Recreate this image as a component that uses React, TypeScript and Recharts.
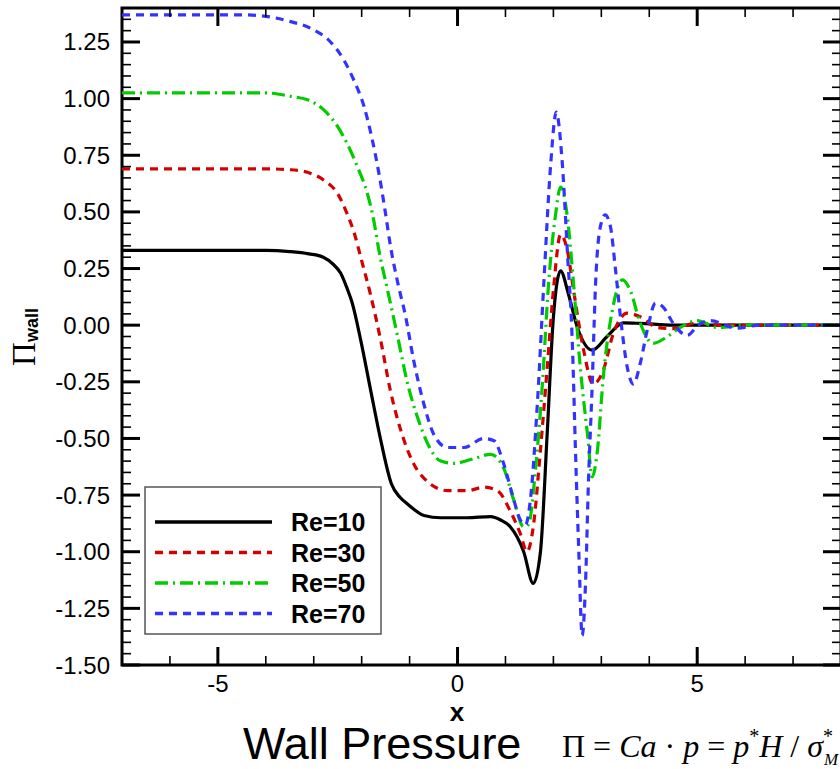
import { LineChart, Line, XAxis, YAxis, ReferenceArea, Legend } from "recharts";

// Re 별 벽면 압력 곡선 (x, Π_wall) - 그림에서 읽은 값
const re10 = [
  { x: -7, y: 0.33 }, { x: -4, y: 0.33 }, { x: -3.5, y: 0.325 }, { x: -3.1, y: 0.315 },
  { x: -2.8, y: 0.3 }, { x: -2.6, y: 0.27 }, { x: -2.44, y: 0.23 }, { x: -2.3, y: 0.16 },
  { x: -2.2, y: 0.1 }, { x: -2.02, y: -0.066 }, { x: -1.81, y: -0.29 }, { x: -1.6, y: -0.51 },
  { x: -1.38, y: -0.7 }, { x: -1.2, y: -0.76 }, { x: -1.04, y: -0.79 }, { x: -0.7, y: -0.84 },
  { x: -0.35, y: -0.85 }, { x: 0.2, y: -0.85 }, { x: 0.69, y: -0.845 }, { x: 0.9, y: -0.86 },
  { x: 1.1, y: -0.89 }, { x: 1.38, y: -1.0 }, { x: 1.58, y: -1.14 }, { x: 1.73, y: -1.0 },
  { x: 1.87, y: -0.48 }, { x: 2.0, y: 0.035 }, { x: 2.15, y: 0.24 }, { x: 2.31, y: 0.14 },
  { x: 2.5, y: -0.01 }, { x: 2.81, y: -0.11 }, { x: 3.12, y: -0.05 }, { x: 3.46, y: 0.01 },
  { x: 3.8, y: 0.008 }, { x: 4.5, y: 0 }, { x: 8, y: 0 },
];

const re30 = [
  { x: -7, y: 0.69 }, { x: -4, y: 0.69 }, { x: -3.48, y: 0.686 }, { x: -3.06, y: 0.67 },
  { x: -2.79, y: 0.64 }, { x: -2.5, y: 0.58 }, { x: -2.3, y: 0.49 }, { x: -2.16, y: 0.41 },
  { x: -2.02, y: 0.3 }, { x: -1.81, y: 0.13 }, { x: -1.6, y: -0.07 }, { x: -1.4, y: -0.29 },
  { x: -1.19, y: -0.46 }, { x: -0.92, y: -0.61 }, { x: -0.63, y: -0.69 }, { x: -0.21, y: -0.73 },
  { x: 0.21, y: -0.73 }, { x: 0.55, y: -0.715 }, { x: 0.83, y: -0.73 }, { x: 1.1, y: -0.82 },
  { x: 1.31, y: -0.92 }, { x: 1.45, y: -1.0 }, { x: 1.58, y: -0.89 }, { x: 1.73, y: -0.55 },
  { x: 1.87, y: -0.19 }, { x: 2.0, y: 0.155 }, { x: 2.15, y: 0.4 }, { x: 2.29, y: 0.33 },
  { x: 2.42, y: 0.155 }, { x: 2.63, y: -0.11 }, { x: 2.83, y: -0.26 }, { x: 3.04, y: -0.2 },
  { x: 3.25, y: -0.037 }, { x: 3.54, y: 0.053 }, { x: 3.81, y: 0.037 }, { x: 4.17, y: -0.01 },
  { x: 4.5, y: -0.015 }, { x: 5, y: 0.01 }, { x: 5.5, y: 0 }, { x: 8, y: 0 },
];

const re50 = [
  { x: -7, y: 1.025 }, { x: -4, y: 1.025 }, { x: -3.48, y: 1.01 }, { x: -3.13, y: 0.995 },
  { x: -2.79, y: 0.95 }, { x: -2.5, y: 0.876 }, { x: -2.3, y: 0.8 }, { x: -2.09, y: 0.7 },
  { x: -1.88, y: 0.58 }, { x: -1.75, y: 0.465 }, { x: -1.64, y: 0.33 }, { x: -1.46, y: 0.155 },
  { x: -1.25, y: -0.05 }, { x: -1.04, y: -0.26 }, { x: -0.83, y: -0.41 }, { x: -0.63, y: -0.52 },
  { x: -0.35, y: -0.6 }, { x: -0.08, y: -0.61 }, { x: 0.33, y: -0.59 }, { x: 0.69, y: -0.57 },
  { x: 0.96, y: -0.63 }, { x: 1.17, y: -0.77 }, { x: 1.38, y: -0.89 }, { x: 1.48, y: -0.88 },
  { x: 1.63, y: -0.63 }, { x: 1.77, y: -0.26 }, { x: 1.9, y: 0.185 }, { x: 2.04, y: 0.48 },
  { x: 2.15, y: 0.61 }, { x: 2.29, y: 0.48 }, { x: 2.42, y: 0.185 }, { x: 2.56, y: -0.185 },
  { x: 2.71, y: -0.48 }, { x: 2.81, y: -0.67 }, { x: 2.92, y: -0.55 }, { x: 3.04, y: -0.23 },
  { x: 3.23, y: 0.066 }, { x: 3.44, y: 0.2 }, { x: 3.6, y: 0.155 }, { x: 3.81, y: 0.01 },
  { x: 4.08, y: -0.08 }, { x: 4.38, y: -0.05 }, { x: 4.65, y: -0.01 }, { x: 5, y: 0.02 },
  { x: 5.42, y: -0.01 }, { x: 6, y: 0 }, { x: 8, y: 0 },
];

const re70 = [
  { x: -7, y: 1.37 }, { x: -4.5, y: 1.37 }, { x: -3.9, y: 1.36 }, { x: -3.48, y: 1.34 },
  { x: -3.06, y: 1.31 }, { x: -2.65, y: 1.25 }, { x: -2.37, y: 1.17 }, { x: -2.16, y: 1.08 },
  { x: -1.95, y: 0.965 }, { x: -1.78, y: 0.82 }, { x: -1.64, y: 0.67 }, { x: -1.5, y: 0.49 },
  { x: -1.4, y: 0.35 }, { x: -1.25, y: 0.19 }, { x: -1.08, y: 0.035 }, { x: -0.92, y: -0.15 },
  { x: -0.7, y: -0.35 }, { x: -0.5, y: -0.48 }, { x: -0.21, y: -0.54 }, { x: 0.13, y: -0.54 },
  { x: 0.55, y: -0.5 }, { x: 0.76, y: -0.51 }, { x: 0.96, y: -0.61 }, { x: 1.14, y: -0.745 },
  { x: 1.31, y: -0.86 }, { x: 1.42, y: -0.88 }, { x: 1.52, y: -0.77 }, { x: 1.67, y: -0.33 },
  { x: 1.8, y: 0.185 }, { x: 1.94, y: 0.7 }, { x: 2.06, y: 0.94 }, { x: 2.18, y: 0.73 },
  { x: 2.29, y: 0.33 }, { x: 2.4, y: -0.11 }, { x: 2.46, y: -0.55 }, { x: 2.53, y: -1.0 },
  { x: 2.6, y: -1.37 }, { x: 2.67, y: -1.14 }, { x: 2.73, y: -0.7 }, { x: 2.81, y: -0.26 },
  { x: 2.88, y: 0.185 }, { x: 2.98, y: 0.435 }, { x: 3.08, y: 0.487 }, { x: 3.19, y: 0.435 },
  { x: 3.29, y: 0.257 }, { x: 3.4, y: 0.035 }, { x: 3.54, y: -0.185 }, { x: 3.67, y: -0.26 },
  { x: 3.81, y: -0.17 }, { x: 3.96, y: -0.02 }, { x: 4.13, y: 0.097 }, { x: 4.29, y: 0.08 },
  { x: 4.5, y: 0.008 }, { x: 4.79, y: -0.045 }, { x: 5.02, y: 0 }, { x: 5.27, y: 0.02 },
  { x: 5.83, y: -0.013 }, { x: 6.3, y: 0 }, { x: 8, y: 0 },
];

const seriesNames = ["Re=10", "Re=30", "Re=50", "Re=70"];
const seriesColors = ["#000000", "#d40000", "#00cc00", "#3333ff"];
const seriesDashes = ["", "8 6", "13 5 2 5", "8 6"];
const seriesData = [re10, re30, re50, re70];

// 눈금
const xMajor = [-5, 0, 5];
const xMinor = [-6, -4, -3, -2, -1, 1, 2, 3, 4, 6, 7];
const yMajor = [-1.5, -1.25, -1.0, -0.75, -0.5, -0.25, 0, 0.25, 0.5, 0.75, 1.0, 1.25];
const yMinor: number[] = [];
for (let i = -29; i <= 27; i++) {
  if (i % 5 !== 0) yMinor.push(i * 0.05);
}

const W = 860;
const H = 769;
const PLOT = { left: 122, right: 841, top: 8, bottom: 665 };
const FONT = "'Liberation Sans', Arial, sans-serif";
const SERIF = "'Liberation Serif', 'Times New Roman', serif";

function XTick(props: any) {
  const { x, payload } = props;
  const v = payload.value;
  const major = xMajor.includes(v);
  const len = major ? 18 : 9;
  const sw = major ? 3 : 1.6;
  return (
    <g>
      <line x1={x} x2={x} y1={PLOT.bottom} y2={PLOT.bottom - len} stroke="#000" strokeWidth={sw} />
      <line x1={x} x2={x} y1={PLOT.top} y2={PLOT.top + len} stroke="#000" strokeWidth={sw} />
      {major && (
        <text x={x} y={692} textAnchor="middle" fontSize={24} fontFamily={FONT} fill="#000">
          {String(v)}
        </text>
      )}
    </g>
  );
}

function YTick(props: any) {
  const { y, payload } = props;
  const v = payload.value;
  const major = Math.abs(v * 4 - Math.round(v * 4)) < 1e-6;
  const len = major ? 18 : 9;
  const sw = major ? 3 : 1.6;
  return (
    <g>
      <line x1={PLOT.left} x2={PLOT.left + len} y1={y} y2={y} stroke="#000" strokeWidth={sw} />
      <line x1={PLOT.right} x2={PLOT.right - len} y1={y} y2={y} stroke="#000" strokeWidth={sw} />
      {major && (
        <text x={110} y={y + 8.5} textAnchor="end" fontSize={24} fontFamily={FONT} fill="#000">
          {v.toFixed(2)}
        </text>
      )}
    </g>
  );
}

function LegendBox() {
  return (
    <svg width={238} height={149} style={{ display: "block" }}>
      <rect x={1} y={1} width={236} height={147} fill="#fff" stroke="#555" strokeWidth={1.5} />
      {seriesNames.map((name, i) => {
        const cy = 36 + i * 30.5;
        return (
          <g key={name}>
            <line
              x1={11}
              x2={128}
              y1={cy}
              y2={cy}
              stroke={seriesColors[i]}
              strokeWidth={3.5}
              strokeDasharray={seriesDashes[i] || undefined}
            />
            <text x={147} y={cy + 9} fontSize={25} fontWeight="bold" fontFamily={FONT} fill="#000">
              {name}
            </text>
          </g>
        );
      })}
    </svg>
  );
}

export default function App() {
  return (
    <div
      style={{
        position: "absolute",
        left: 0,
        top: 0,
        width: 840,
        height: 769,
        overflow: "hidden",
        background: "#fff",
      }}
    >
      <LineChart width={W} height={H} margin={{ top: 8, right: 19, bottom: 0, left: 0 }}>
        <XAxis
          type="number"
          dataKey="x"
          domain={[-7, 8]}
          ticks={[...xMajor, ...xMinor]}
          interval={0}
          tick={<XTick />}
          tickLine={false}
          axisLine={false}
          height={104}
          allowDataOverflow
          label={{
            content: () => (
              <text x={457} y={721} textAnchor="middle" fontSize={26} fontWeight="bold" fontFamily={FONT} fill="#000">
                x
              </text>
            ),
          }}
        />
        <YAxis
          type="number"
          domain={[-1.5, 1.4]}
          ticks={[...yMajor, ...yMinor]}
          interval={0}
          tick={<YTick />}
          tickLine={false}
          axisLine={false}
          width={122}
          allowDataOverflow
          label={{
            content: () => (
              <text transform="translate(35, 337) rotate(-90)" textAnchor="middle" fill="#000">
                <tspan fontFamily={SERIF} fontSize={33}>Π</tspan>
                <tspan fontFamily={FONT} fontWeight="bold" fontSize={18} dy={3}>
                  wall
                </tspan>
              </text>
            ),
          }}
        />
        <ReferenceArea x1={-7} x2={8} y1={-1.5} y2={1.4} fill="none" stroke="#000" strokeWidth={3} />
        {seriesData.map((d, i) => (
          <Line
            key={seriesNames[i]}
            data={d}
            dataKey="y"
            name={seriesNames[i]}
            type="monotone"
            stroke={seriesColors[i]}
            strokeWidth={3.2}
            strokeDasharray={seriesDashes[i] || undefined}
            dot={false}
            activeDot={false}
            isAnimationActive={false}
          />
        ))}
        <Legend
          layout="horizontal"
          verticalAlign="middle"
          align="center"
          content={() => <LegendBox />}
          wrapperStyle={{ left: 144, top: 486, width: 238, height: 149 }}
        />
      </LineChart>
      <svg
        width={840}
        height={769}
        style={{ position: "absolute", left: 0, top: 0, pointerEvents: "none" }}
      >
        <text x={243} y={759} fontSize={45} fontFamily={FONT} fill="#000">
          Wall Pressure
        </text>
        <text x={562} y={757} fontSize={32} fontFamily={SERIF} fill="#000">
          <tspan>Π = </tspan>
          <tspan fontStyle="italic">Ca</tspan>
          <tspan> · </tspan>
          <tspan fontStyle="italic">p</tspan>
          <tspan> = </tspan>
          <tspan fontStyle="italic">p</tspan>
          <tspan fontSize={20} dy={-14}>*</tspan>
          <tspan fontStyle="italic" dy={14}>H</tspan>
          <tspan> / </tspan>
          <tspan fontStyle="italic">σ</tspan>
          <tspan fontSize={20} dy={-14}>*</tspan>
          <tspan fontSize={17} fontStyle="italic" dx={-9} dy={22}>M</tspan>
        </text>
      </svg>
    </div>
  );
}
